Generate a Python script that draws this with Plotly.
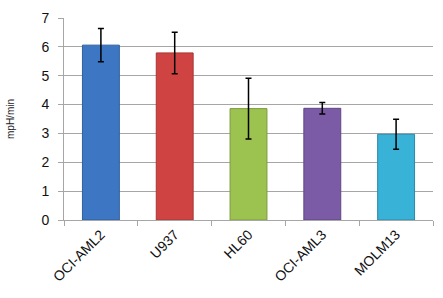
import plotly.graph_objects as go

categories = ["OCI-AML2", "U937", "HL60", "OCI-AML3", "MOLM13"]
values = [6.06, 5.79, 3.86, 3.87, 2.97]
errors = [0.58, 0.72, 1.05, 0.2, 0.52]
colors = ["#3d77c4", "#cf4442", "#9cc250", "#7c5ba6", "#38b2d6"]
line_colors = ["#2f5f9e", "#a83634", "#7c9c3e", "#5f4582", "#2b8aa8"]
y_ticks = [0, 1, 2, 3, 4, 5, 6, 7]

fig = go.Figure(go.Bar(
    x=categories, y=values,
    marker=dict(color=colors, line=dict(color=line_colors, width=1)),
    width=0.5,
    error_y=dict(type="data", array=errors, color="black", thickness=1.5, width=3),
))

fig.update_layout(
    width=443, height=298,
    margin=dict(l=64, r=10, t=10, b=78),
    paper_bgcolor="white", plot_bgcolor="white",
    font=dict(family="Liberation Sans", size=12, color="#222"),
    showlegend=False,
    bargap=0.5,
)
fig.update_yaxes(
    range=[0, 7], tickvals=y_ticks,
    showgrid=True, gridcolor="#a6a6a6", gridwidth=1,
    showline=True, linecolor="#a6a6a6", linewidth=1,
    ticks="outside", ticklen=5, tickcolor="#a6a6a6",
    ticklabelstandoff=6,
    tickfont=dict(size=14, color="#111"),
    title=dict(text="mpH/min", font=dict(size=10), standoff=24),
    zeroline=False,
)
fig.update_xaxes(
    showline=True, linecolor="#a6a6a6", linewidth=1,
    ticks="outside", ticklen=5, tickcolor="#a6a6a6",
    tickson="boundaries", tickangle=-45,
    tickfont=dict(size=14, color="#111"),
)

fig.write_html("out.html")
